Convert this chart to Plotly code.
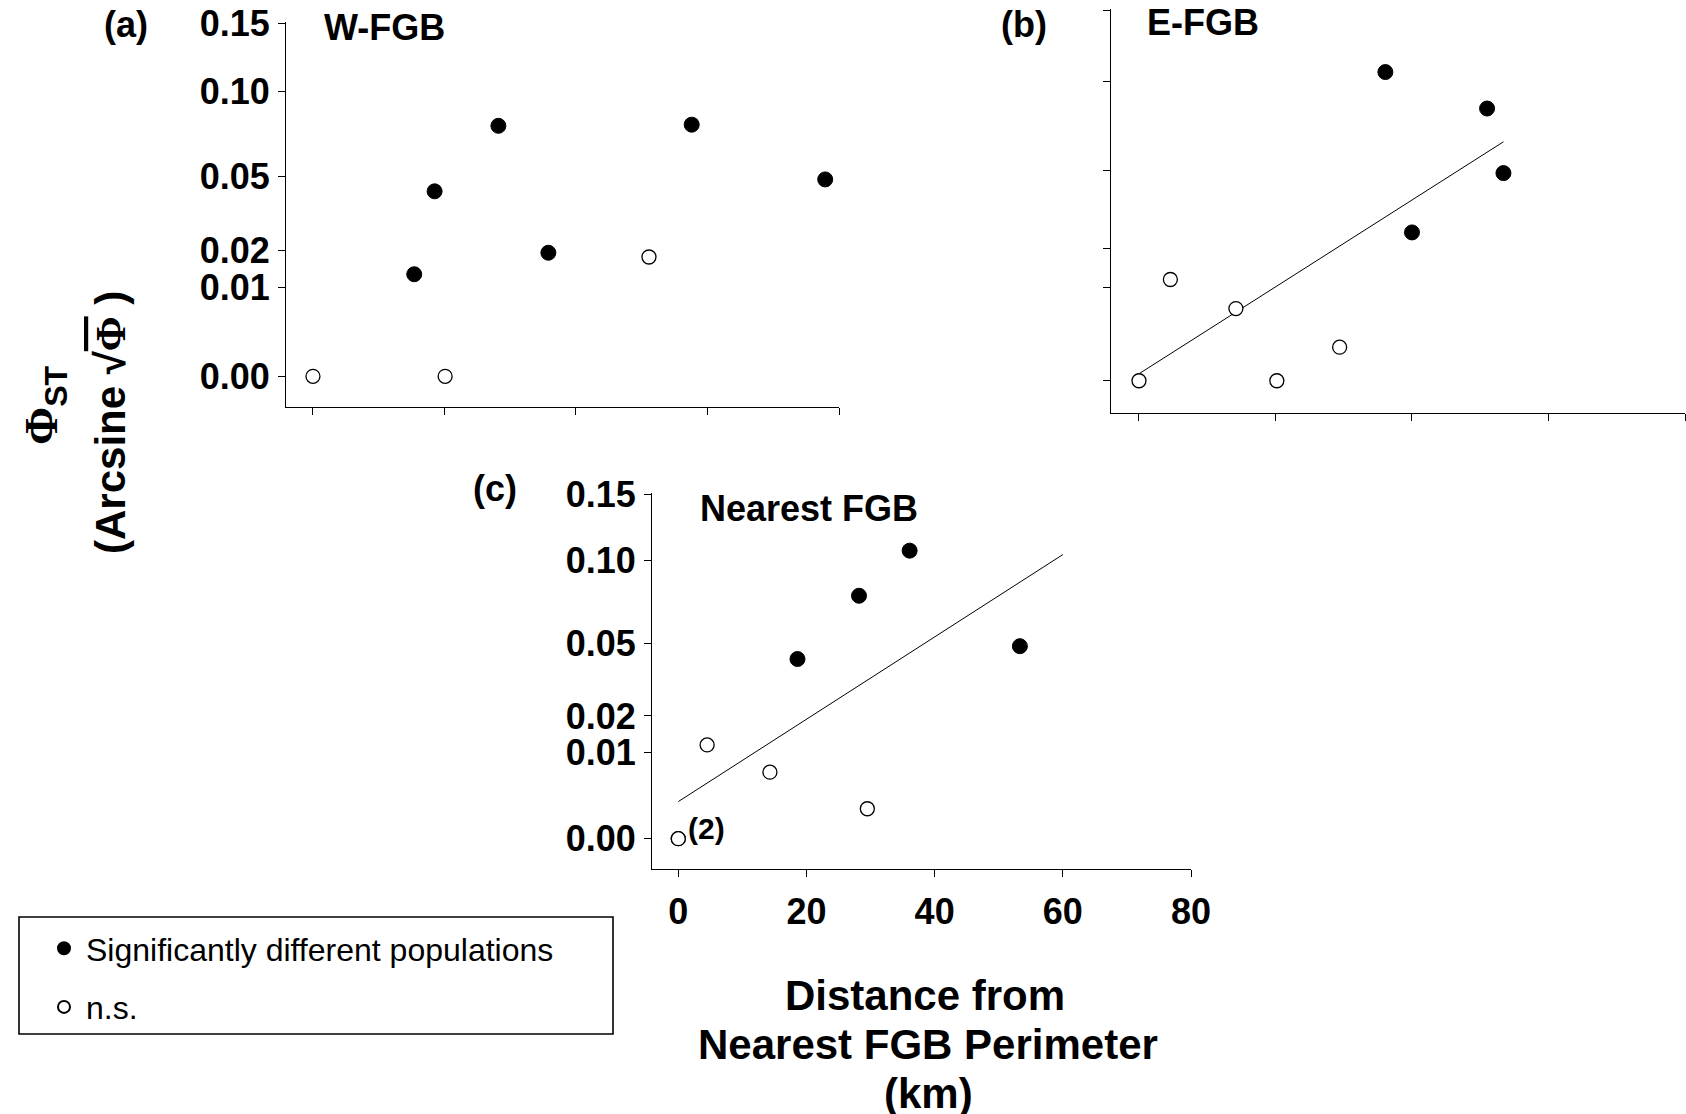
import numpy as np
import plotly.graph_objects as go

# ---------------- data ----------------
tick_phi = [0.00, 0.01, 0.02, 0.05, 0.10, 0.15]
tick_labels = ["0.00", "0.01", "0.02", "0.05", "0.10", "0.15"]
x_ticks = [0, 20, 40, 60, 80]
x_tick_labels = ["0", "20", "40", "60", "80"]

# (a) W-FGB
a_sig_x = [15.4, 18.5, 28.2, 35.8, 57.6, 77.9]
a_sig_phi = [0.0132, 0.0429, 0.0777, 0.0193, 0.0784, 0.0485]
a_ns_x = [0.0, 20.1, 51.1]
a_ns_phi = [0.0, 0.0, 0.0180]

# (b) E-FGB
b_sig_x = [36.1, 40.0, 51.0, 53.4]
b_sig_phi = [0.1061, 0.0252, 0.0832, 0.0490]
b_ns_x = [0.0, 4.6, 14.2, 20.2, 29.4]
b_ns_phi = [0.0, 0.0118, 0.0060, 0.0, 0.0013]

# (c) Nearest FGB (two populations at distance 0)
c_sig_x = [18.6, 28.2, 36.1, 53.3]
c_sig_phi = [0.0425, 0.0768, 0.1068, 0.0487]
c_ns_x = [0.0, 0.0, 4.5, 14.3, 29.5]
c_ns_phi = [0.0, 0.0, 0.0117, 0.0059, 0.0012]
c_fit_range = [0.0, 60.0]

W, H = 1686, 1114
FONT = "Arial, 'Liberation Sans', sans-serif"


def asq(p):
    return np.arcsin(np.sqrt(np.asarray(p, dtype=float)))


def px_x(p):
    return p / W


def px_y(p):
    return 1 - p / H


fig = go.Figure()

sig_marker = dict(symbol="circle", size=15, color="black", line=dict(color="black", width=1))
ns_marker = dict(symbol="circle", size=14, color="white", line=dict(color="black", width=1.3))

# regression lines (fit on arcsine-sqrt transformed values)
bx = np.array(b_sig_x + b_ns_x)
by = asq(b_sig_phi + b_ns_phi)
mb, cb = np.polyfit(bx, by, 1)
bl = np.array([bx.min(), bx.max()])
fig.add_trace(go.Scatter(x=bl, y=mb * bl + cb, mode="lines", line=dict(color="black", width=1),
                         xaxis="x2", yaxis="y2", showlegend=False, hoverinfo="skip"))

cx = np.array(c_sig_x + c_ns_x)
cy = asq(c_sig_phi + c_ns_phi)
mc, cc = np.polyfit(cx, cy, 1)
cl = np.array(c_fit_range)
fig.add_trace(go.Scatter(x=cl, y=mc * cl + cc, mode="lines", line=dict(color="black", width=1),
                         xaxis="x3", yaxis="y3", showlegend=False, hoverinfo="skip"))

panels = [
    ("", a_sig_x, a_sig_phi, a_ns_x, a_ns_phi),
    ("2", b_sig_x, b_sig_phi, b_ns_x, b_ns_phi),
    ("3", c_sig_x, c_sig_phi, c_ns_x, c_ns_phi),
]
for i, (k, sx, sp, nx, npv) in enumerate(panels):
    fig.add_trace(go.Scatter(x=sx, y=asq(sp), mode="markers", marker=sig_marker,
                             xaxis="x" + k, yaxis="y" + k,
                             name="Significantly different populations", legendgroup="sig",
                             showlegend=(i == 0)))
    fig.add_trace(go.Scatter(x=nx, y=asq(npv), mode="markers", marker=ns_marker,
                             xaxis="x" + k, yaxis="y" + k,
                             name="n.s.", legendgroup="ns", showlegend=(i == 0)))

tickfont = dict(family=FONT, size=36, color="black", weight="bold")
axis_common = dict(showline=True, linecolor="black", linewidth=1, ticks="outside", ticklen=7,
                   tickwidth=1, tickcolor="black", showgrid=False, zeroline=False,
                   tickfont=tickfont, automargin=False)
xr = [-4.1, 80]
yr = [-0.035, 0.40]
ytv = list(asq(tick_phi))

fig.update_layout(
    width=W, height=H, margin=dict(l=0, r=0, t=0, b=0, pad=0, autoexpand=False),
    paper_bgcolor="white", plot_bgcolor="white",
    font=dict(family=FONT, color="black"),
    xaxis=dict(axis_common, domain=[px_x(286), px_x(839)], range=xr, tickvals=x_ticks,
               showticklabels=False, anchor="y"),
    yaxis=dict(axis_common, domain=[px_y(407.4), px_y(21.6)], range=yr, tickvals=ytv,
               ticktext=tick_labels, ticklabelstandoff=1, anchor="x"),
    xaxis2=dict(axis_common, domain=[px_x(1111), px_x(1685)], range=xr, tickvals=x_ticks,
                showticklabels=False, anchor="y2"),
    yaxis2=dict(axis_common, domain=[px_y(413.3), px_y(8.6)], range=yr, tickvals=ytv,
                showticklabels=False, anchor="x2"),
    xaxis3=dict(axis_common, domain=[px_x(652), px_x(1191)], range=xr, tickvals=x_ticks,
                ticktext=x_tick_labels, ticklabelstandoff=4, anchor="y3"),
    yaxis3=dict(axis_common, domain=[px_y(869), px_y(492.6)], range=yr, tickvals=ytv,
                ticktext=tick_labels, ticklabelstandoff=1, anchor="x3"),
    showlegend=True,
    legend=dict(x=px_x(42), y=px_y(921), xanchor="left", yanchor="top",
                font=dict(family=FONT, size=32, color="black"),
                bgcolor="rgba(0,0,0,0)", borderwidth=0, tracegroupgap=14,
                itemsizing="constant", itemwidth=34),
)

# legend frame
fig.add_shape(type="rect", xref="paper", yref="paper",
              x0=px_x(19), x1=px_x(613), y0=px_y(1034), y1=px_y(917),
              line=dict(color="black", width=1.6), fillcolor="rgba(0,0,0,0)")


def ann(text, x, y, size=36, xanchor="center", yanchor="middle", angle=0, **kw):
    fig.add_annotation(text=text, x=px_x(x), y=px_y(y), xref="paper", yref="paper",
                       showarrow=False, xanchor=xanchor, yanchor=yanchor, textangle=angle,
                       font=dict(family=FONT, size=size, color="black"), **kw)


# panel labels & titles
ann("<b>(a)</b>", 126, 24)
ann("<b>(b)</b>", 1024, 24)
ann("<b>(c)</b>", 495, 489)
ann("<b>W-FGB</b>", 322, 27, xanchor="left")
ann("<b>E-FGB</b>", 1145, 22, xanchor="left")
ann("<b>Nearest FGB</b>", 698, 509, xanchor="left")

# (2) label near duplicated point
fig.add_annotation(text="<b>(2)</b>", x=0, y=0, xref="x3", yref="y3", showarrow=False,
                   xanchor="left", yanchor="middle", xshift=8, yshift=10,
                   font=dict(family=FONT, size=30, color="black"))

# axis titles
ann("<b>Distance from</b>", 925, 995, size=42)
ann("<b>Nearest FGB Perimeter</b>", 928, 1044, size=42)
ann("<b>(km)</b>", 929, 1093, size=42)
ann("<b><span style='font-family:Liberation Serif'>Φ</span><sub>ST</sub></b>", 45, 405,
    size=46, angle=-90)
ann("<b>(Arcsine √<span style='font-family:Liberation Serif;text-decoration:overline'>Φ</span> )</b>",
    111, 423, size=42, angle=-90)

fig.write_html("out.html")
